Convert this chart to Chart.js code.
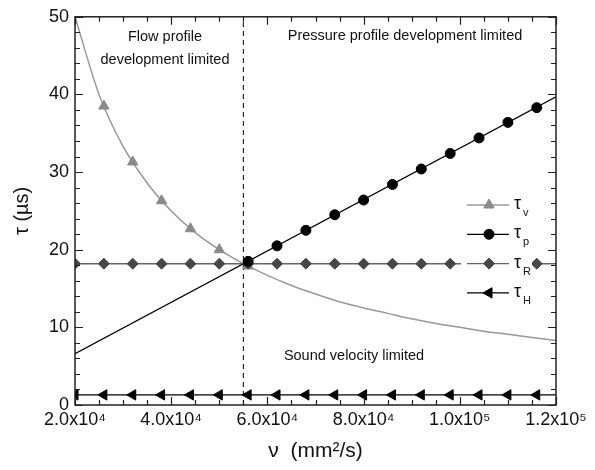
<!DOCTYPE html>
<html>
<head>
<meta charset="utf-8">
<script src="https://cdn.jsdelivr.net/npm/chart.js@4/dist/chart.umd.min.js"></script>
<style>
  html, body { margin: 0; padding: 0; background: #fff; }
  #wrap { width: 595px; height: 470px; }
</style>
</head>
<body>
<div id="wrap"><canvas id="tauChart"></canvas></div>
<script>
// Kinematic viscosity nu (mm^2/s) against time constants tau (us)
const nuCurve = [20000, 25000, 30000, 35000, 40000, 45000, 50000, 55000, 60000, 65000, 70000,
  75000, 80000, 85000, 90000, 95000, 100000, 105000, 110000, 115000, 120000];
const tauVCurve = [50.0, 40.0, 33.3, 28.6, 25.0, 22.2, 20.0, 18.2, 16.7, 15.4, 14.3,
  13.3, 12.5, 11.8, 11.1, 10.5, 10.0, 9.5, 9.1, 8.7, 8.3];

const nuMarks = [20000, 26000, 32000, 38000, 44000, 50000, 56000, 62000, 68000, 74000, 80000,
  86000, 92000, 98000, 104000, 110000, 116000];
const nuVMarks = [26000, 32000, 38000, 44000, 50000, 56000];
const tauVMarks = [38.5, 31.3, 26.3, 22.7, 20.0, 17.9];
const nuPMarks = [56000, 62000, 68000, 74000, 80000, 86000, 92000, 98000, 104000, 110000, 116000];
const tauPMarks = [18.5, 20.5, 22.5, 24.5, 26.4, 28.4, 30.4, 32.4, 34.4, 36.4, 38.3];
const tauRMarks = [18.2, 18.2, 18.2, 18.2, 18.2, 18.2, 18.2, 18.2, 18.2, 18.2, 18.2, 18.2, 18.2, 18.2, 18.2, 18.2, 18.2];
const tauHMarks = [1.3, 1.3, 1.3, 1.3, 1.3, 1.3, 1.3, 1.3, 1.3, 1.3, 1.3, 1.3, 1.3, 1.3, 1.3, 1.3, 1.3];

const nuEnds = [20000, 120000];
const tauPLine = [6.6, 39.7];
const tauRLine = [18.2, 18.2];
const tauHLine = [1.3, 1.3];

const nuBoundary = [55000, 55000];
const tauBoundary = [0, 50];

const xTickLabels = ['2.0x10⁴', '4.0x10⁴', '6.0x10⁴', '8.0x10⁴', '1.0x10⁵', '1.2x10⁵'];

const FONT = '"Liberation Sans", Arial, sans-serif';
const GREY_V = '#8a8a8a';
const GREY_R = '#474747';

function pts(xs, ys) {
  return xs.map((x, i) => ({ x: x, y: ys[i] }));
}

// inward ticks on all four sides plus the box frame
const frameTicks = {
  id: 'frameTicks',
  afterDatasetsDraw(chart) {
    const { ctx, chartArea: a, scales: { x, y } } = chart;
    ctx.save();
    ctx.strokeStyle = '#222';
    ctx.lineWidth = 1.2;
    ctx.beginPath();
    for (let v = 20000; v <= 120000; v += 5000) {
      const px = Math.round(x.getPixelForValue(v)) + 0.5;
      const len = (v % 20000 === 0) ? 8 : 5;
      ctx.moveTo(px, a.bottom); ctx.lineTo(px, a.bottom - len);
      ctx.moveTo(px, a.top); ctx.lineTo(px, a.top + len);
    }
    for (let v = 0; v <= 50; v += 2) {
      const py = Math.round(y.getPixelForValue(v)) + 0.5;
      const len = (v % 10 === 0) ? 8 : 5;
      ctx.moveTo(a.left, py); ctx.lineTo(a.left + len, py);
      ctx.moveTo(a.right, py); ctx.lineTo(a.right - len, py);
    }
    ctx.stroke();
    ctx.lineWidth = 1.5;
    ctx.strokeRect(a.left, a.top, a.right - a.left, a.bottom - a.top);
    ctx.restore();
  }
};

// region captions
const captions = {
  id: 'captions',
  afterDatasetsDraw(chart) {
    const ctx = chart.ctx;
    ctx.save();
    ctx.fillStyle = '#111';
    ctx.font = '14.5px ' + FONT;
    ctx.textAlign = 'center';
    ctx.textBaseline = 'middle';
    ctx.fillText('Flow profile', 165, 37);
    ctx.fillText('development limited', 165, 60);
    ctx.fillText('Pressure profile development limited', 405, 36);
    ctx.fillText('Sound velocity limited', 354, 356);
    ctx.restore();
  }
};

// legend box with line + marker samples and subscripted tau labels
const tauLegend = {
  id: 'tauLegend',
  afterDatasetsDraw(chart) {
    const ctx = chart.ctx;
    const rows = [
      { sub: 'v', color: GREY_V, line: '#999', style: 'triangle', rot: 0, r: 6 },
      { sub: 'p', color: '#000', line: '#000', style: 'circle', rot: 0, r: 5 },
      { sub: 'R', color: GREY_R, line: '#666', style: 'rectRot', rot: 0, r: 5.5 },
      { sub: 'H', color: '#000', line: '#000', style: 'triangle', rot: -90, r: 6 }
    ];
    ctx.save();
    ctx.fillStyle = '#fff';
    ctx.fillRect(461, 192, 71, 114);
    rows.forEach((row, i) => {
      const cy = 205 + i * 29.3;
      ctx.strokeStyle = row.line;
      ctx.lineWidth = 1.3;
      ctx.beginPath();
      ctx.moveTo(467, cy); ctx.lineTo(509, cy);
      ctx.stroke();
      ctx.fillStyle = row.color;
      ctx.strokeStyle = row.color;
      ctx.lineWidth = 1;
      Chart.helpers.drawPoint(ctx, { pointStyle: row.style, rotation: row.rot, radius: row.r, borderWidth: 1 }, 489, cy);
      ctx.fillStyle = '#111';
      ctx.textAlign = 'left';
      ctx.textBaseline = 'middle';
      ctx.font = '18px ' + FONT;
      ctx.fillText('τ', 514, cy - 1);
      ctx.font = '11px ' + FONT;
      ctx.fillText(row.sub, 523, cy + 8);
    });
    ctx.restore();
  }
};

const ctx = document.getElementById('tauChart').getContext('2d');
new Chart(ctx, {
  type: 'line',
  data: {
    datasets: [
      {
        label: 'boundary',
        data: pts(nuBoundary, tauBoundary),
        borderColor: '#000', borderWidth: 1, borderDash: [5, 4],
        pointRadius: 0, order: 9
      },
      {
        label: 'tau_v curve',
        data: pts(nuCurve, tauVCurve),
        borderColor: '#999', borderWidth: 1.5, cubicInterpolationMode: 'monotone',
        pointRadius: 0, order: 8
      },
      {
        label: 'tau_R line',
        data: pts(nuEnds, tauRLine),
        borderColor: '#666', borderWidth: 1.5, pointRadius: 0, order: 7
      },
      {
        label: 'tau_H line',
        data: pts(nuEnds, tauHLine),
        borderColor: '#000', borderWidth: 1.3, pointRadius: 0, order: 7
      },
      {
        label: 'tau_p line',
        data: pts(nuEnds, tauPLine),
        borderColor: '#000', borderWidth: 1.3, pointRadius: 0, order: 6
      },
      {
        label: 'τv',
        data: pts(nuVMarks, tauVMarks),
        showLine: false, pointStyle: 'triangle', pointRadius: 6,
        pointBackgroundColor: GREY_V, pointBorderColor: GREY_V, pointBorderWidth: 1, order: 5
      },
      {
        label: 'τR',
        data: pts(nuMarks, tauRMarks),
        showLine: false, pointStyle: 'rectRot', pointRadius: 5.5,
        pointBackgroundColor: GREY_R, pointBorderColor: GREY_R, pointBorderWidth: 1, order: 4
      },
      {
        label: 'τH',
        data: pts(nuMarks, tauHMarks),
        showLine: false, pointStyle: 'triangle', pointRotation: -90, pointRadius: 6,
        pointBackgroundColor: '#000', pointBorderColor: '#000', pointBorderWidth: 1, order: 3
      },
      {
        label: 'τp',
        data: pts(nuPMarks, tauPMarks),
        showLine: false, pointStyle: 'circle', pointRadius: 5,
        pointBackgroundColor: '#000', pointBorderColor: '#000', pointBorderWidth: 1, order: 2
      }
    ]
  },
  options: {
    responsive: true,
    maintainAspectRatio: false,
    animation: false,
    clip: 0,
    layout: { padding: { left: 0, top: 15, right: 39, bottom: 0 } },
    plugins: {
      legend: { display: false },
      tooltip: { enabled: false }
    },
    scales: {
      x: {
        type: 'linear',
        min: 20000,
        max: 120000,
        grid: { display: false, drawTicks: false },
        border: { display: false },
        afterFit: s => { s.height = 65; },
        ticks: {
          stepSize: 20000,
          padding: 4,
          color: '#111',
          font: { family: FONT, size: 18 },
          maxRotation: 0,
          autoSkip: false,
          callback: (v) => {
            const i = Math.round((v - 20000) / 20000);
            return xTickLabels[i];
          }
        },
        title: {
          display: true,
          text: 'ν  (mm²/s)',
          color: '#111',
          font: { family: FONT, size: 21 },
          padding: { top: 0, bottom: 6 }
        }
      },
      y: {
        min: 0,
        max: 50,
        grid: { display: false, drawTicks: false },
        border: { display: false },
        afterFit: s => { s.width = 75; },
        ticks: {
          stepSize: 10,
          padding: 6,
          color: '#111',
          font: { family: FONT, size: 18 }
        },
        title: {
          display: true,
          text: 'τ (µs)',
          color: '#111',
          font: { family: FONT, size: 20 },
          padding: { top: 10, bottom: 0 }
        }
      }
    }
  },
  plugins: [frameTicks, captions, tauLegend]
});
</script>
</body>
</html>
